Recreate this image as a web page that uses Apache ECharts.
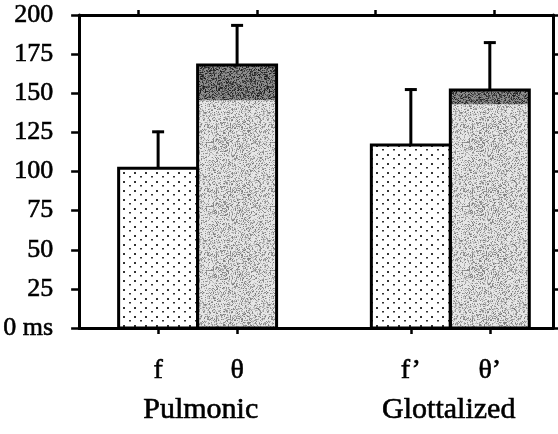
<!DOCTYPE html>
<html><head><meta charset="utf-8">
<script src="https://cdn.jsdelivr.net/npm/echarts@6/dist/echarts.min.js"></script>
<style>html,body{margin:0;padding:0;background:#fff}#c{width:558px;height:434px}</style>
</head><body><div id="c"></div>
<script>
// ---- data ----
const categories = ['f', 'θ', 'f’', 'θ’'];
const groups = ['Pulmonic', 'Glottalized'];
const means = [102, 168, 117, 152];          // bar heights (ms)
const lightTop = [null, 145.5, null, 143];   // top of light shading (dark cap above)
const errTop = [126, 194, 153, 183];         // top of error bars
const yTickLabels = ['0 ms', '25', '50', '75', '100', '125', '150', '175', '200'];

// ---- layout (not data) ----
const slot = [5, 10, 21, 26];
const groupSlot = [7.7, 23.4];
const barW = 5;
const FONT = 'Liberation Serif';

// textures
function hash(x, y, s) {
  let h = (x * 374761393 + y * 668265263 + s * 1442695040) | 0;
  h = (h ^ (h >>> 13)) * 1274126177 | 0;
  return ((h ^ (h >>> 16)) >>> 0) / 4294967295;
}
function noiseCanvas(base, prob, lo, hi, seed) {
  const c = document.createElement('canvas'); c.width = 64; c.height = 64;
  const g = c.getContext('2d');
  g.fillStyle = base; g.fillRect(0, 0, 64, 64);
  for (let y = 0; y < 64; y++) for (let x = 0; x < 64; x++) {
    const r = hash(x, y, seed);
    if (r < prob) {
      const v = Math.floor(lo + (hi - lo) * hash(y, x, seed + 7));
      g.fillStyle = 'rgb(' + v + ',' + v + ',' + v + ')';
      g.fillRect(x, y, 1, 1);
    }
  }
  return c;
}
function dotCanvas() {
  const c = document.createElement('canvas'); c.width = 11; c.height = 9;
  const g = c.getContext('2d');
  g.fillStyle = '#ffffff'; g.fillRect(0, 0, 11, 9);
  g.fillStyle = '#333';
  g.fillRect(2, 1, 2, 2);
  g.fillRect(8, 5, 2, 1.5);
  return c;
}
const dotFill = { image: dotCanvas(), repeat: 'repeat' };
const lightFill = { image: noiseCanvas('#e6e6e6', 0.45, 120, 215, 3), repeat: 'repeat' };
const darkFill = { image: noiseCanvas('#8c8c8c', 0.55, 25, 110, 11), repeat: 'repeat' };

const fData = [], lightData = [], darkData = [], outlineData = [], errData = [];
categories.forEach((c, i) => {
  if (lightTop[i] == null) fData.push([slot[i], 0, means[i]]);
  else { lightData.push([slot[i], 0, lightTop[i]]); darkData.push([slot[i], lightTop[i], means[i]]); }
  outlineData.push([slot[i], 0, means[i]]);
  errData.push([slot[i], means[i], errTop[i]]);
});

function rectRender(fill, stroke) {
  return function (params, api) {
    const x = api.value(0), y0 = api.value(1), y1 = api.value(2);
    const a = api.coord([x - barW / 2, y1]);
    const b = api.coord([x + barW / 2, y0]);
    return {
      type: 'rect',
      shape: { x: a[0], y: a[1], width: b[0] - a[0], height: b[1] - a[1] },
      style: stroke ? { fill: 'none', stroke: '#000', lineWidth: 3 } : { fill: fill }
    };
  };
}
function errRender(params, api) {
  const x = api.value(0);
  const a = api.coord([x, api.value(1)]);
  const b = api.coord([x, api.value(2)]);
  return {
    type: 'group',
    children: [
      { type: 'line', shape: { x1: a[0], y1: a[1], x2: b[0], y2: b[1] }, style: { stroke: '#000', lineWidth: 3 } },
      { type: 'line', shape: { x1: b[0] - 6, y1: b[1] + 1, x2: b[0] + 6, y2: b[1] + 1 }, style: { stroke: '#000', lineWidth: 3 } }
    ]
  };
}

const textThick = { textBorderColor: '#000', textBorderWidth: 0.6 };
const chart = echarts.init(document.getElementById('c'), null, { renderer: 'canvas' });
const axisLine = { show: true, onZero: false, lineStyle: { color: '#000', width: 3 } };
chart.setOption({
  backgroundColor: '#fff',
  animation: false,
  grid: { left: 77, right: 5, top: 15, bottom: 106 },
  xAxis: [
    {
      type: 'value', min: 0, max: 30, position: 'bottom',
      axisLine: axisLine, splitLine: { show: false },
      axisTick: { show: true, customValues: slot, length: 6, inside: false, lineStyle: { color: '#000', width: 2.5 } },
      axisLabel: Object.assign({
        customValues: slot, margin: 29,
        formatter: v => categories[slot.indexOf(v)] || '',
        fontFamily: FONT, fontSize: 28, color: '#000'
      }, textThick)
    },
    {
      type: 'category', data: ['', '', '', ''], position: 'top',
      axisLine: axisLine,
      axisTick: { show: true, alignWithLabel: true, length: 5, lineStyle: { color: '#000', width: 2.5 } },
      axisLabel: { show: false }
    },
    {
      type: 'value', min: 0, max: 30, position: 'bottom',
      axisLine: { show: false }, axisTick: { show: false }, splitLine: { show: false },
      axisLabel: Object.assign({
        customValues: groupSlot, margin: 67,
        formatter: v => groups[groupSlot.indexOf(v)] || '',
        fontFamily: FONT, fontSize: 30, color: '#000'
      }, textThick)
    }
  ],
  yAxis: [
    {
      type: 'value', min: 0, max: 200, interval: 25, position: 'left',
      axisLine: axisLine, splitLine: { show: false },
      axisTick: { show: true, length: 8, lineStyle: { color: '#000', width: 2.5 } },
      axisLabel: Object.assign({
        margin: 26, fontFamily: FONT, fontSize: 26, color: '#000',
        formatter: v => yTickLabels[Math.round(v / 25)]
      }, textThick)
    },
    {
      type: 'value', min: 0, max: 200, interval: 25, position: 'right',
      axisLine: axisLine, splitLine: { show: false },
      axisTick: { show: true, length: 5, lineStyle: { color: '#000', width: 2.5 } },
      axisLabel: { show: false }
    }
  ],
  series: [
    { type: 'custom', name: 'plain', data: fData, renderItem: rectRender(dotFill), z: 2 },
    { type: 'custom', name: 'light', data: lightData, renderItem: rectRender(lightFill), z: 2 },
    { type: 'custom', name: 'dark', data: darkData, renderItem: rectRender(darkFill), z: 2 },
    { type: 'custom', name: 'outline', data: outlineData, renderItem: rectRender(null, true), z: 3 },
    { type: 'custom', name: 'error', data: errData, renderItem: errRender, z: 3 }
  ]
});
</script>
</body></html>
